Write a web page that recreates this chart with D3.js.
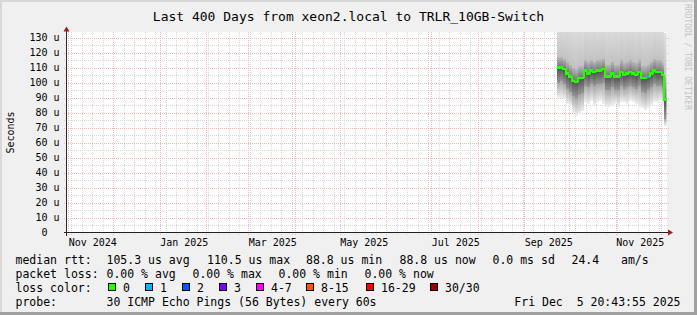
<!DOCTYPE html>
<html>
<head>
<meta charset="utf-8">
<script src="https://cdn.jsdelivr.net/npm/d3@7"></script>
<style>
  body { margin: 0; background: #f0f0f0; }
  svg text { font-family: "DejaVu Sans Mono", monospace; white-space: pre; }
</style>
</head>
<body>
<svg id="chart" width="697" height="315"></svg>
<script>
// Data
var endTime = new Date(Date.UTC(2025, 11, 5, 20, 43, 55)),
  startTime = new Date(+endTime - 400 * 864e5);

// 2-day buckets, last one is the drop at the very end
var bucketDates = ["2025-09-23", "2025-09-25", "2025-09-27", "2025-09-29",
  "2025-10-01", "2025-10-03", "2025-10-05", "2025-10-07", "2025-10-09", "2025-10-11",
  "2025-10-13", "2025-10-15", "2025-10-17", "2025-10-19", "2025-10-21", "2025-10-23",
  "2025-10-25", "2025-10-27", "2025-10-29", "2025-10-31",
  "2025-11-02", "2025-11-04", "2025-11-06", "2025-11-08", "2025-11-10", "2025-11-12",
  "2025-11-14", "2025-11-16", "2025-11-18", "2025-11-20", "2025-11-22", "2025-11-24",
  "2025-11-26", "2025-11-28", "2025-11-30", "2025-12-02", "2025-12-03T08:00:00Z"];

// median rtt (us)
var median = [110, 110, 109, 106, 104, 101, 100.5, 103, 103, 108, 106, 108, 107, 108, 108, 109,
  104, 104, 106, 104, 104, 107, 105, 106, 107, 106, 105, 107, 103, 103, 104, 106, 108, 107, 107, 105, 88.8];
// lost pings out of 30
var loss = [0, 0, 0, 0, 0, 0, 0, 0, 0, 0, 0, 0, 0, 0, 0, 0, 0, 0, 0, 0,
  0, 0, 0, 0, 0, 0, 0, 0, 0, 0, 1, 0, 0, 0, 0, 0, 0];
// smoke: lowest ping, dark band below, dark band above, highest ping (us)
var smokeLo = [90, 90, 89, 86, 85, 80, 78, 79, 81, 87, 86, 88, 85, 87, 88, 86, 84, 84, 85, 86,
  84, 87, 87, 86, 88, 87, 86, 84, 83, 82, 83, 85, 87, 87, 88, 86, 71];
var smokeQ1 = [100, 101, 99, 96, 94, 91, 90, 92, 93, 98, 97, 99, 98, 99, 99, 100, 95, 95, 97, 95,
  95, 98, 96, 97, 98, 97, 96, 98, 94, 93, 95, 97, 99, 98, 98, 96, 76];
var smokeQ3 = [117, 117, 116, 114, 112, 110, 109, 111, 111, 115, 114, 115, 114, 115, 115, 116, 112, 112, 114, 112,
  112, 115, 113, 114, 115, 114, 113, 115, 111, 111, 112, 114, 116, 115, 115, 113, 104];
var smokeHi = [138, 140, 139, 141, 140, 138, 139, 140, 137, 142, 140, 139, 141, 138, 140, 139, 137, 140, 138, 141,
  139, 140, 138, 142, 139, 140, 137, 141, 138, 139, 140, 138, 141, 139, 140, 137, 133];

// axis labels
var yTicks = [0, 10, 20, 30, 40, 50, 60, 70, 80, 90, 100, 110, 120, 130];
var xLabelMonths = ["2024-11-01", "2025-01-01", "2025-03-01", "2025-05-01", "2025-07-01", "2025-09-01", "2025-11-01"];
var xLabels = ["Nov 2024", "Jan 2025", "Mar 2025", "May 2025", "Jul 2025", "Sep 2025", "Nov 2025"];

// legend
var titleText = "Last 400 Days from xeon2.local to TRLR_10GB-Switch";
var rttRow = ["median rtt:", "105.3 us avg", "110.5 us max", "88.8 us min", "88.8 us now", "0.0 ms sd", "24.4", "am/s"];
var lossRow = ["packet loss:", "0.00 % avg", "0.00 % max", "0.00 % min", "0.00 % now"];
var lossNames = ["0", "1", "2", "3", "4-7", "8-15", "16-29", "30/30"];
var lossMax = [0, 1, 2, 3, 7, 15, 29, 30];
var lossColors = ["#26ff00", "#00b8ff", "#0059ff", "#7e00ff", "#ff00ff", "#ff5500", "#ff0000", "#a10000"];
var probeRow = ["probe:", "30 ICMP Echo Pings (56 Bytes) every 60s", "Fri Dec  5 20:43:55 2025"];

// Placement
var W = 697, H = 315,
  plotL = 67, plotR = 667, plotT = 32, plotB = 233;

var x = d3.scaleUtc().domain([startTime, endTime]).range([68, 668]);
var y = d3.scaleLinear().domain([0, 400 / 3]).range([232.5, 32.5]);

var svg = d3.select("#chart");

// background + shade border
svg.append("rect").attr("width", W).attr("height", H).attr("fill", "#f0f0f0");
svg.append("path").attr("d", "M0,1H696M1,0V314").attr("stroke", "#d8d8d8").attr("stroke-width", 2).attr("fill", "none");
svg.append("path").attr("d", "M0,313.5H697M695.5,0V315").attr("stroke", "#a0a0a0").attr("stroke-width", 3).attr("fill", "none");

// canvas
svg.append("rect")
  .attr("x", plotL).attr("y", plotT)
  .attr("width", plotR - plotL).attr("height", plotB - plotT)
  .attr("fill", "#ffffff");

var defs = svg.append("defs");
defs.append("clipPath").attr("id", "plotClip")
  .append("rect").attr("x", plotL).attr("y", plotT)
  .attr("width", plotR - plotL - 0.5).attr("height", plotB - plotT);

function grad(id, top, bottom) {
  var g = defs.append("linearGradient").attr("id", id)
    .attr("x1", 0).attr("y1", 0).attr("x2", 0).attr("y2", 1);
  g.append("stop").attr("offset", 0).attr("stop-color", top);
  g.append("stop").attr("offset", 1).attr("stop-color", bottom);
}
grad("gHiOut", "#e0e0e0", "#c2c2c2");
grad("gHiIn", "#b8b8b8", "#747474");
grad("gLoIn", "#505050", "#969696");
grad("gLoOut", "#a6a6a6", "#eeeeee");

// grid
var grid = svg.append("g").attr("shape-rendering", "crispEdges").attr("fill", "none");
var px = function(v) { return Math.round(v) + 0.5; };

grid.selectAll(".vmin").data(d3.utcSunday.range(startTime, endTime))
  .enter().append("line")
  .attr("x1", function(d) { return px(x(d)); }).attr("x2", function(d) { return px(x(d)); })
  .attr("y1", plotT).attr("y2", plotB + 2)
  .attr("stroke", "#d6d6d6").attr("stroke-dasharray", "1,1");

grid.selectAll(".hmin").data(d3.range(5, 135, 10))
  .enter().append("line")
  .attr("x1", plotL - 3).attr("x2", plotR + 2)
  .attr("y1", function(d) { return px(y(d)); }).attr("y2", function(d) { return px(y(d)); })
  .attr("stroke", "#d6d6d6").attr("stroke-dasharray", "1,1");

grid.selectAll(".vmaj").data(d3.utcMonth.range(startTime, endTime))
  .enter().append("line")
  .attr("x1", function(d) { return px(x(d)); }).attr("x2", function(d) { return px(x(d)); })
  .attr("y1", plotT).attr("y2", plotB + 2)
  .attr("stroke", "#f2b6b6").attr("stroke-dasharray", "1,1");

grid.selectAll(".hmaj").data(yTicks.slice(1))
  .enter().append("line")
  .attr("x1", plotL - 3).attr("x2", plotR + 2)
  .attr("y1", function(d) { return px(y(d)); }).attr("y2", function(d) { return px(y(d)); })
  .attr("stroke", "#f2b6b6").attr("stroke-dasharray", "1,1");

// smoke + median
function toDate(s) { return new Date(s.length > 10 ? s : s + "T00:00:00Z"); }
var buckets = bucketDates.map(function(d, i) {
  return {
    t0: toDate(d),
    t1: i + 1 < bucketDates.length ? toDate(bucketDates[i + 1]) : endTime,
    med: median[i], lo: smokeLo[i], q1: smokeQ1[i], q3: smokeQ3[i], hi: smokeHi[i],
    loss: loss[i], prev: i > 0 ? median[i - 1] : median[i]
  };
});

var smoke = svg.append("g").attr("clip-path", "url(#plotClip)").attr("shape-rendering", "crispEdges");
var bands = [["hi", "q3", "gHiOut"], ["q3", "med", "gHiIn"], ["med", "q1", "gLoIn"], ["q1", "lo", "gLoOut"]];
bands.forEach(function(b) {
  smoke.selectAll(".b" + b[2]).data(buckets).enter().append("rect")
    .attr("x", function(d) { return Math.round(x(d.t0)); })
    .attr("width", function(d) { return Math.round(x(d.t1)) - Math.round(x(d.t0)); })
    .attr("y", function(d) { return y(d[b[0]]); })
    .attr("height", function(d) { return y(d[b[1]]) - y(d[b[0]]); })
    .attr("fill", "url(#" + b[2] + ")");
});

function lossColor(l) {
  for (var i = 0; i < lossMax.length; i++) if (l <= lossMax[i]) return lossColors[i];
  return lossColors[lossColors.length - 1];
}

smoke.selectAll(".med").data(buckets).enter().append("path")
  .attr("d", function(d) {
    return "M" + x(d.t0) + "," + y(d.prev) + "V" + y(d.med) + "H" + x(d.t1);
  })
  .attr("fill", "none")
  .attr("stroke", function(d) { return lossColor(d.loss); })
  .attr("stroke-width", 2.5);

// axes
svg.append("line").attr("x1", 64).attr("x2", 669).attr("y1", 232.5).attr("y2", 232.5)
  .attr("stroke", "#202020").attr("shape-rendering", "crispEdges");
svg.append("line").attr("x1", 66.5).attr("x2", 66.5).attr("y1", 235.5).attr("y2", 30)
  .attr("stroke", "#3a2222").attr("shape-rendering", "crispEdges");
svg.append("path").attr("d", "M668,229.5L673,232.5L668,235.5Z").attr("fill", "#9a1c1c");
svg.append("path").attr("d", "M63.5,31.5L66.5,26.5L69.5,31.5Z").attr("fill", "#9a1c1c");

var yAxis = d3.axisLeft(y).tickValues(yTicks).tickSize(0).tickPadding(7.5)
  .tickFormat(function(d) { return d === 0 ? "0\u00a0\u00a0" : d + " u"; });
var gy = svg.append("g").attr("transform", "translate(67,0)").call(yAxis);
gy.select(".domain").remove();
gy.selectAll("text").attr("font-size", 10).attr("font-family", "DejaVu Sans Mono").attr("fill", "#000");

var xAxis = d3.axisBottom(x)
  .tickValues(xLabelMonths.map(function(d) { return d3.utcDay.offset(toDate(d), 16); }))
  .tickFormat(function(d, i) { return xLabels[i]; })
  .tickSize(0).tickPadding(6);
var gx = svg.append("g").attr("transform", "translate(0,232.5)").call(xAxis);
gx.select(".domain").remove();
gx.selectAll("text").attr("font-size", 10).attr("font-family", "DejaVu Sans Mono").attr("fill", "#000");

// titles
svg.append("text").attr("x", 348.5).attr("y", 21).attr("text-anchor", "middle")
  .attr("font-size", 13).text(titleText);
svg.append("text").attr("transform", "translate(14,132.5) rotate(-90)").attr("text-anchor", "middle")
  .attr("font-size", 10).text("Seconds");
svg.append("text").attr("transform", "translate(684.5,4) rotate(90)")
  .attr("font-size", 8).attr("fill", "#c4c4c4").text("RRDTOOL / TOBI OETIKER");

// legend
var rowY = [263.5, 277.5, 291.5, 305.5];
var leg = svg.append("g").attr("font-size", 11.5).attr("fill", "#000");

var rttX = [15.5, 106.5, 207, 306, 399.5, 492.5, 571.5, 621];
leg.selectAll(".rtt").data(rttRow).enter().append("text")
  .attr("x", function(d, i) { return rttX[i]; }).attr("y", rowY[0]).text(function(d) { return d; });

var lossX = [15.5, 106.5, 192.5, 278.5, 364.5];
leg.selectAll(".pl").data(lossRow).enter().append("text")
  .attr("x", function(d, i) { return lossX[i]; }).attr("y", rowY[1]).text(function(d) { return d; });

leg.append("text").attr("x", 15.5).attr("y", rowY[2]).text("loss color:");
var boxX = [108.5, 145.5, 182.5, 219.5, 256.5, 306.5, 366.5, 430.5];
leg.selectAll(".lbox").data(lossNames).enter().append("rect")
  .attr("x", function(d, i) { return boxX[i]; }).attr("y", 283.5)
  .attr("width", 7).attr("height", 7)
  .attr("fill", function(d, i) { return lossColors[i]; })
  .attr("stroke", "#000").attr("stroke-width", 1);
leg.selectAll(".lname").data(lossNames).enter().append("text")
  .attr("x", function(d, i) { return boxX[i] + 14.5; }).attr("y", rowY[2]).text(function(d) { return d; });

leg.append("text").attr("x", 15.5).attr("y", rowY[3]).text(probeRow[0]);
leg.append("text").attr("x", 106.5).attr("y", rowY[3]).text(probeRow[1]);
leg.append("text").attr("x", 680.5).attr("y", rowY[3]).attr("text-anchor", "end").text(probeRow[2]);
</script>
</body>
</html>
